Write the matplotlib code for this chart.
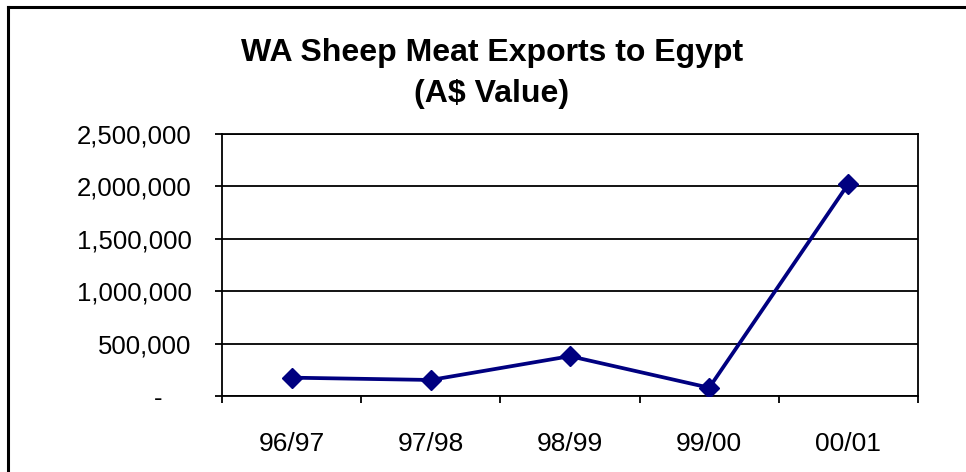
import matplotlib.pyplot as plt
from matplotlib.ticker import FuncFormatter, MultipleLocator
from matplotlib.lines import Line2D

# Datos: exportaciones de carne ovina de WA a Egipto (valor en A$)
temporadas = ["96/97", "97/98", "98/99", "99/00", "00/01"]
valores = [175000, 153000, 380000, 79000, 2025000]

plt.rcParams['font.family'] = ['Liberation Sans', 'DejaVu Sans']

fig = plt.figure(figsize=(9.66, 4.72), dpi=100)
ax = fig.add_axes([222 / 966, 1 - 396 / 472, 696 / 966, 262 / 472])

x = list(range(len(temporadas)))
ax.plot(x, valores, color='#000080', linewidth=2.7, marker='D', markersize=10,
        markerfacecolor='#000080', markeredgecolor='#000080', zorder=3)

ax.set_xlim(-0.5, len(temporadas) - 0.5)
ax.set_ylim(0, 2500000)

# Eje y: formato tipo contabilidad, "-" para el cero
def fmt_y(v, pos):
    if v == 0:
        return "-    "
    return f"{v:,.0f}"

ax.yaxis.set_major_locator(MultipleLocator(500000))
ax.yaxis.set_major_formatter(FuncFormatter(fmt_y))
ax.grid(axis='y', color='black', linewidth=1.3)
ax.set_axisbelow(True)

# Eje x: marcas entre categorías, etiquetas centradas
ax.set_xticks([i - 0.5 for i in range(len(temporadas) + 1)])
ax.set_xticklabels([])
ax.set_xticks(x, minor=True)
ax.set_xticklabels(temporadas, minor=True)
ax.tick_params(axis='x', which='minor', length=0, pad=26, labelsize=19)
ax.tick_params(axis='x', which='major', direction='out', length=5, width=1.3)
ax.tick_params(axis='y', direction='out', length=5, width=1.3, pad=17, labelsize=18.5)

for s in ax.spines.values():
    s.set_color('black')
    s.set_linewidth(1.3)

fig.text(492 / 966, 1 - 53 / 472, "WA Sheep Meat Exports to Egypt",
         ha='center', va='center', fontsize=23, fontweight='bold')
fig.text(492 / 966, 1 - 94 / 472, "(A$ Value)",
         ha='center', va='center', fontsize=23, fontweight='bold')

# Marco exterior del gráfico
fig.add_artist(Line2D([8 / 966, 8 / 966], [0, 1 - 7 / 472], color='black',
                      linewidth=2.2, transform=fig.transFigure))
fig.add_artist(Line2D([8 / 966, 1], [1 - 7 / 472, 1 - 7 / 472], color='black',
                      linewidth=2.2, transform=fig.transFigure))

fig.savefig("out.png", dpi=100, facecolor='white')
